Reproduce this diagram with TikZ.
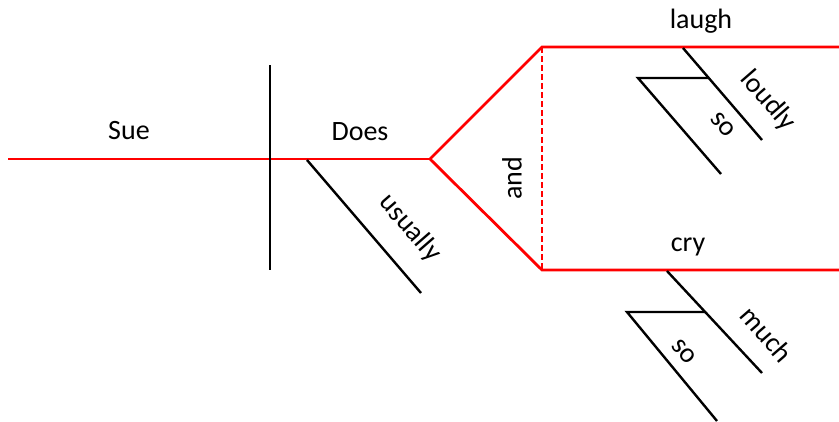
\documentclass[tikz,border=0pt]{standalone}
\usepackage{fontspec}
\setmainfont{Carlito}
\usetikzlibrary{positioning}

\begin{document}
\begin{tikzpicture}[
            x = 1pt, y = -1pt, % one unit per pixel, y going down
            base/.style = {draw = red, line width = 2.8pt}, % main lines
            modline/.style = {draw = black, line width = 2.4pt}, % modifier lines
            word/.style = {font = \fontsize{28}{32}\selectfont, inner sep = 0pt},
            slant/.style = {word, rotate = -49}
        ]

        \useasboundingbox (0,0) rectangle (839,421);

        % baseline and fork
        \coordinate (L) at (8,159);
        \coordinate (F) at (430,159);
        \coordinate (UT) at (542,47);
        \coordinate (UB) at (542,270);
        \coordinate (UTR) at (839,47);
        \coordinate (UBR) at (839,270);

        % subject / predicate divider
        \coordinate (DT) at (270,65);
        \coordinate (DB) at (270,270);

        % modifier lines
        \coordinate (usA) at (307,160);
        \coordinate (usB) at (421,293);
        \coordinate (ldA) at (683,48);
        \coordinate (ldB) at (762,140);
        \coordinate (so1A) at (638,78);
        \coordinate (so1H) at (709,78);
        \coordinate (so1B) at (721,174);
        \coordinate (muA) at (667,271);
        \coordinate (muB) at (762,373);
        \coordinate (so2A) at (627,312);
        \coordinate (so2H) at (705,312);
        \coordinate (so2B) at (717,421);

        \draw[base] (L) -- (F);
        \draw[base, line join = miter] (UTR) -- (UT) -- (F) -- (UB) -- (UBR);
        \draw[base, line width = 2pt, dash pattern = on 6pt off 3pt] (UT) -- (UB);

        \draw[modline] (DT) -- (DB);
        \draw[modline] (usA) -- (usB);
        \draw[modline] (ldA) -- (ldB);
        \draw[modline, line join = miter] (so1H) -- (so1A) -- (so1B);
        \draw[modline] (muA) -- (muB);
        \draw[modline, line join = miter] (so2H) -- (so2A) -- (so2B);

        % words
        \node[word] (Sue) at (129,131) {Sue};
        \node[word] (Does) at (360,132) {Does};
        \node[word] (laugh) at (701,21) {laugh};
        \node[word] (cry) at (688,247) {cry};
        \node[word, rotate = 90] (and) at (512,178) {and};
        \node[slant] (usually) at (410,228) {usually};
        \node[slant] (loudly) at (768,101) {loudly};
        \node[slant] (soA) at (723,125) {so};
        \node[slant] (much) at (767,334) {much};
        \node[slant] (soB) at (684,352) {so};

\end{tikzpicture}
\end{document}
